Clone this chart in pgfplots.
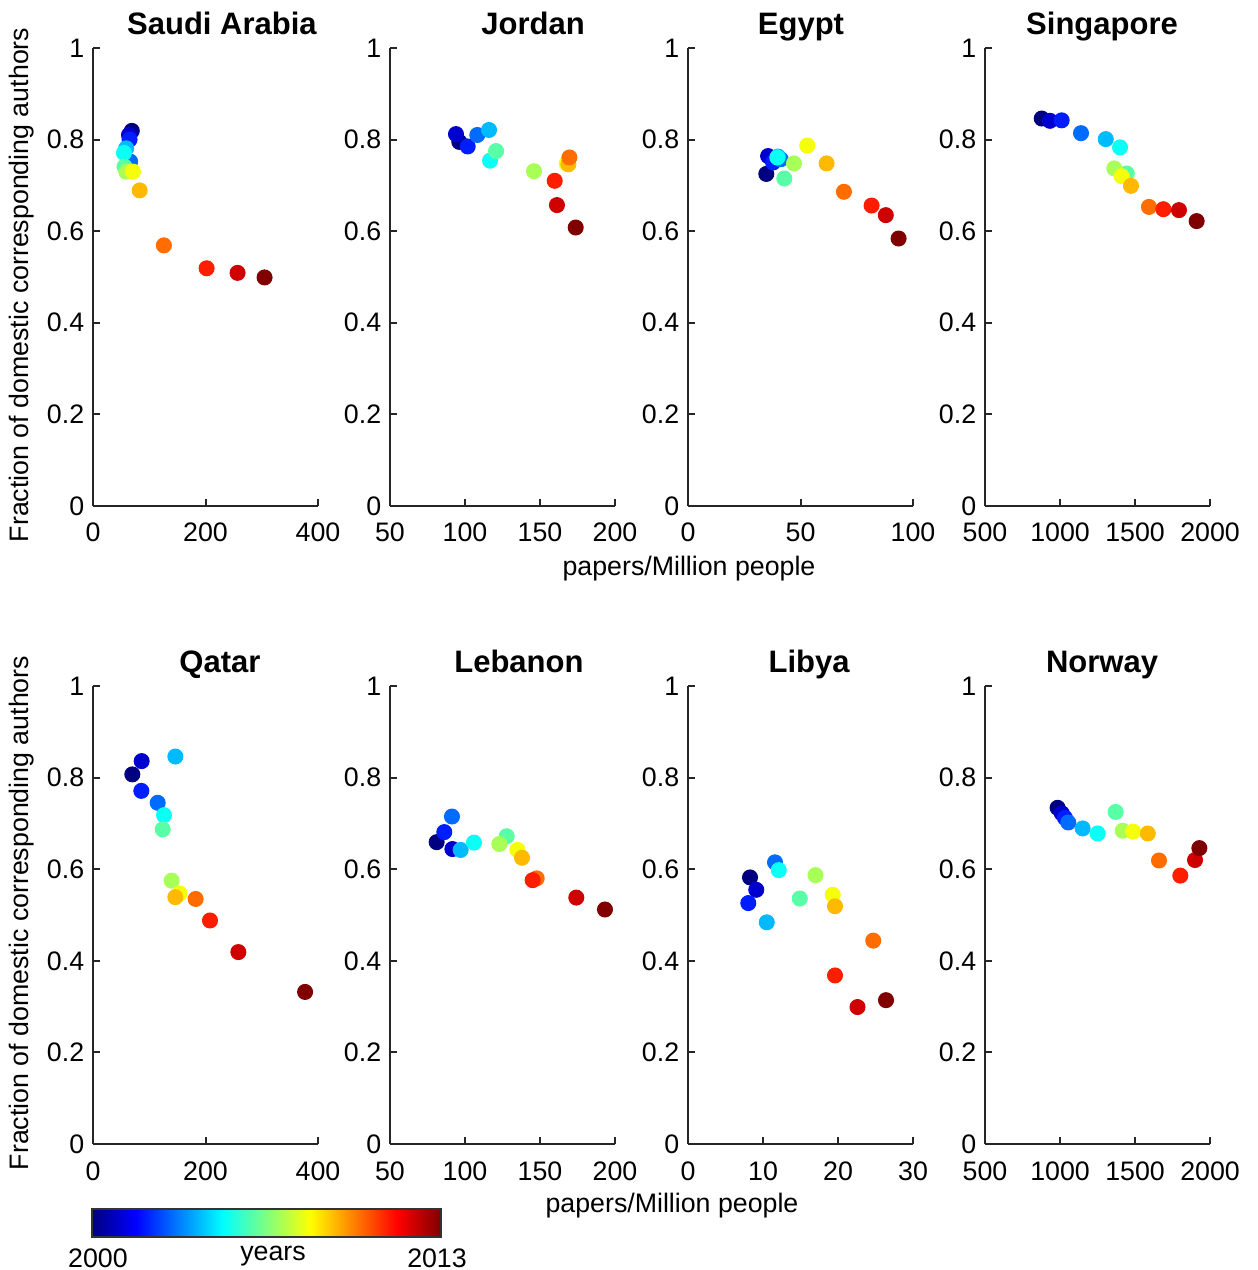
\documentclass[border=0pt]{standalone}
\usepackage{pgfplots}
\pgfplotsset{compat=1.18}
\usepackage{fontspec}
\setmainfont{Liberation Sans}

\pgfplotsset{
 panel/.style={
  width=90pt, height=183.2pt, scale only axis,
  axis lines*=left, axis line style={-, line width=0.8pt, draw=black!85},
  tick align=inside, major tick length=2.8pt,
  tick style={line width=0.8pt, draw=black!85},
  ymin=0, ymax=1, ytick={0,0.2,0.4,0.6,0.8,1},
  tick label style={font=\fontsize{10.7}{12}\selectfont},
  xticklabel style={yshift=-3.4pt},
  /pgf/number format/assume math mode=true,
  /pgf/number format/1000 sep={},
  colormap/jet, point meta min=2000, point meta max=2013,
  title style={font=\bfseries\fontsize{12.4}{14}\selectfont, anchor=base, yshift=-0.8pt},
  clip=false,
 },
 pts/.style={scatter, only marks, mark=*, mark size=3pt, point meta=explicit,
  scatter/use mapped color={draw=mapped color, fill=mapped color}},
}

\begin{document}
\begin{tikzpicture}
\useasboundingbox (-37.2pt,-50.4pt) rectangle (465.6pt,457.6pt);

% ---------- top row ----------
\begin{axis}[panel, at={(0pt,255.2pt)}, anchor=south west,
  xmin=0, xmax=400, xtick={0,200,400},
  title={Saudi Arabia}, title style={at={(axis description cs:0.573,1)}}]
\addplot[pts] table[x=x,y=y,meta=t]{
x y t
69 0.819 2000
64 0.810 2001
65 0.800 2002
66 0.752 2003
59 0.781 2004
55 0.771 2005
56 0.741 2006
59 0.730 2007
71 0.730 2008
83 0.689 2009
126 0.569 2010
202 0.519 2011
257 0.509 2012
305 0.499 2013
};
\end{axis}

\begin{axis}[panel, at={(118.8pt,255.2pt)}, anchor=south west,
  xmin=50, xmax=200, xtick={50,100,150,200},
  title={Jordan}, title style={at={(axis description cs:0.636,1)}}]
\addplot[pts] table[x=x,y=y,meta=t]{
x y t
96.2 0.795 2000
94 0.812 2001
101.8 0.785 2002
108.2 0.810 2003
116 0.821 2004
116.7 0.754 2005
120.7 0.775 2006
146 0.731 2007
167.8 0.748 2008
168.9 0.746 2009
169.6 0.761 2010
159.8 0.710 2011
161.3 0.657 2012
173.8 0.608 2013
};
\end{axis}

\begin{axis}[panel, at={(238pt,255.2pt)}, anchor=south west,
  xmin=0, xmax=100, xtick={0,50,100},
  title={Egypt}, title style={at={(axis description cs:0.502,1)}}]
\addplot[pts] table[x=x,y=y,meta=t]{
x y t
34.8 0.725 2000
35.6 0.764 2001
37.8 0.750 2002
41.2 0.757 2003
40.0 0.763 2004
39.7 0.761 2005
42.8 0.715 2006
47.1 0.748 2007
53.0 0.787 2008
61.6 0.748 2009
69.3 0.686 2010
81.6 0.656 2011
87.9 0.635 2012
93.6 0.584 2013
};
\end{axis}

\begin{axis}[panel, at={(356.8pt,255.2pt)}, anchor=south west,
  xmin=500, xmax=2000, xtick={500,1000,1500,2000},
  title={Singapore}, title style={at={(axis description cs:0.52,1)}}]
\addplot[pts] table[x=x,y=y,meta=t]{
x y t
878 0.846 2000
933 0.841 2001
1011 0.842 2002
1140 0.814 2003
1305 0.801 2004
1400 0.783 2005
1445 0.726 2006
1362 0.737 2007
1411 0.720 2008
1473 0.699 2009
1593 0.653 2010
1689 0.648 2011
1793 0.646 2012
1911 0.622 2013
};
\end{axis}

% ---------- bottom row ----------
\begin{axis}[panel, at={(0pt,0pt)}, anchor=south west,
  xmin=0, xmax=400, xtick={0,200,400},
  title={Qatar}, title style={at={(axis description cs:0.564,1)}},
  colorbar horizontal,
  colorbar style={at={(parent axis.south west)}, anchor=north west,
    xshift=-0.4pt, yshift=-17.6pt, width=139.6pt, height=11.2pt,
    scale only axis, xtick=\empty, ytick=\empty,
    axis line style={line width=0.8pt, draw=black!80}}]
\addplot[pts] table[x=x,y=y,meta=t]{
x y t
69.9 0.807 2000
86.5 0.836 2001
85.9 0.771 2002
115 0.745 2003
146.4 0.846 2004
126.2 0.718 2005
123.9 0.687 2006
139.8 0.575 2007
154 0.547 2008
146.4 0.539 2009
182.5 0.535 2010
208 0.488 2011
258.4 0.419 2012
377 0.332 2013
};
\end{axis}

\begin{axis}[panel, at={(118.8pt,0pt)}, anchor=south west,
  xmin=50, xmax=200, xtick={50,100,150,200},
  title={Lebanon}, title style={at={(axis description cs:0.573,1)}}]
\addplot[pts] table[x=x,y=y,meta=t]{
x y t
81.1 0.659 2000
91.6 0.644 2001
86.2 0.681 2002
91.3 0.715 2003
97.1 0.642 2004
106 0.658 2005
127.8 0.672 2006
122.9 0.655 2007
134.9 0.642 2008
138 0.625 2009
147.8 0.580 2010
145.1 0.576 2011
174.2 0.538 2012
193.3 0.512 2013
};
\end{axis}

\begin{axis}[panel, at={(238pt,0pt)}, anchor=south west,
  xmin=0, xmax=30, xtick={0,10,20,30},
  title={Libya}, title style={at={(axis description cs:0.538,1)}}]
\addplot[pts] table[x=x,y=y,meta=t]{
x y t
8.27 0.582 2000
9.1 0.555 2001
8.04 0.526 2002
11.6 0.615 2003
10.5 0.484 2004
12.1 0.598 2005
14.9 0.536 2006
17.0 0.587 2007
19.3 0.544 2008
19.6 0.519 2009
24.7 0.444 2010
19.6 0.368 2011
22.6 0.299 2012
26.4 0.314 2013
};
\end{axis}

\begin{axis}[panel, at={(356.8pt,0pt)}, anchor=south west,
  xmin=500, xmax=2000, xtick={500,1000,1500,2000},
  title={Norway}, title style={at={(axis description cs:0.52,1)}}]
\addplot[pts] table[x=x,y=y,meta=t]{
x y t
984 0.734 2000
1012 0.722 2001
1033 0.712 2002
1055 0.702 2003
1151 0.689 2004
1251 0.678 2005
1371 0.725 2006
1418 0.684 2007
1487 0.682 2008
1585 0.678 2009
1660 0.619 2010
1802 0.586 2011
1900 0.620 2012
1929 0.646 2013
};
\end{axis}

% ---------- labels ----------
\node[rotate=90, font=\fontsize{10.7}{12}\selectfont] at (-28.4pt,343.6pt) {Fraction of domestic corresponding authors};
\node[rotate=90, font=\fontsize{10.7}{12}\selectfont] at (-28.4pt,92.4pt) {Fraction of domestic corresponding authors};
\node[font=\fontsize{10.7}{12}\selectfont] at (238.4pt,230pt) {papers/Million people};
\node[font=\fontsize{10.7}{12}\selectfont] at (231.6pt,-24.8pt) {papers/Million people};
\node[font=\fontsize{10.7}{12}\selectfont, anchor=base] at (2pt,-49.2pt) {2000};
\node[font=\fontsize{10.7}{12}\selectfont, anchor=base] at (137.6pt,-49.2pt) {2013};
\node[font=\fontsize{10.7}{12}\selectfont, anchor=base] at (72pt,-46.4pt) {years};
\end{tikzpicture}
\end{document}
